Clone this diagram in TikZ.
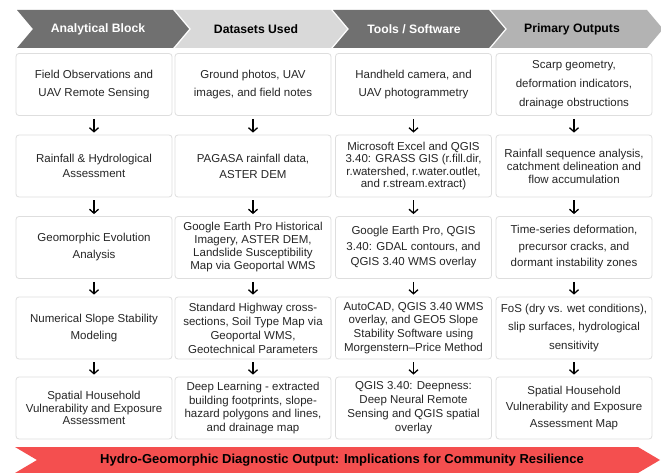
\documentclass[tikz,border=0pt]{standalone}
\usepackage{fontspec}
\setmainfont{Liberation Sans}
\usetikzlibrary{arrows.meta}
\definecolor{chevdark}{HTML}{707070}
\definecolor{chevlight}{HTML}{D9D9D9}
\definecolor{chevmid}{HTML}{B3B3B3}
\definecolor{bannerred}{HTML}{F44F4F}
\definecolor{boxline}{HTML}{DEDEDE}
\definecolor{bodytext}{HTML}{262626}
\begin{document}
\begin{tikzpicture}[x=1pt,y=-1pt,
  box/.style={draw=boxline, line width=0.8pt, fill=white, rounded corners=3pt,
    minimum width=156pt, minimum height=62pt, inner sep=0pt, align=center, text=bodytext},
  ls/.style={font=\fontsize{11.5}{#1}\selectfont},
  headtext/.style={font=\fontsize{12.2}{14}\selectfont\bfseries, inner sep=0pt},
  bannertext/.style={font=\fontsize{13}{15}\selectfont\bfseries, inner sep=0pt, text=black},
  arr/.style={line width=1.3pt, -{Straight Barb[length=4pt,width=9pt]}, shorten <=3pt, shorten >=2pt}]
\useasboundingbox (0,0) rectangle (661,473);
\fill[white] (0,0) rectangle (661,473);

% header chevrons
\foreach \k/\col/\tc/\txt/\nm in {0/chevdark/white/{Analytical Block}/h1,
                                   1/chevlight/black/{Datasets Used}/h2,
                                   2/chevdark/white/{Tools / Software}/h3,
                                   3/chevmid/black/{Primary Outputs}/h4}{
  \pgfmathsetmacro\L{17+158*\k}
  \fill[\col] (\L,10) -- ++(156,0) -- ++(16,19) -- ++(-16,19) -- ++(-156,0) -- ++(16,-19) -- cycle;
  \node[headtext, text=\tc] (\nm) at (\L+81,29) {\txt};
}

% boxes
\node[box, ls=18.3] (r1c1) at (94,84.5)  {Field Observations and\\UAV Remote Sensing};
\node[box, ls=18.3] (r1c2) at (253,84.5) {Ground photos, UAV\\images, and field notes};
\node[box, ls=18.3] (r1c3) at (413.5,84.5) {Handheld camera, and\\UAV photogrammetry};
\node[box, ls=19]   (r1c4) at (574,84.5) {Scarp geometry,\\deformation indicators,\\drainage obstructions};

\node[box, ls=15]   (r2c1) at (94,166)  {Rainfall \& Hydrological\\Assessment};
\node[box, ls=16]   (r2c2) at (253,166) {PAGASA rainfall data,\\ASTER DEM};
\node[box, ls=12.5] (r2c3) at (413.5,166) {Microsoft Excel and QGIS\\3.40: GRASS GIS (r.fill.dir,\\r.watershed, r.water.outlet,\\and r.stream.extract)};
\node[box, ls=13]   (r2c4) at (574,166) {Rainfall sequence analysis,\\catchment delineation and\\flow accumulation};

\node[box, ls=17]   (r3c1) at (94,247.5)  {Geomorphic Evolution\\Analysis};
\node[box, ls=13]   (r3c2) at (253,247.5) {Google Earth Pro Historical\\Imagery, ASTER DEM,\\Landslide Susceptibility\\Map via Geoportal WMS};
\node[box, ls=15.5] (r3c3) at (413.5,247.5) {Google Earth Pro, QGIS\\3.40: GDAL contours, and\\QGIS 3.40 WMS overlay};
\node[box, ls=16.5] (r3c4) at (574,247.5) {Time-series deformation,\\precursor cracks, and\\dormant instability zones};

\node[box, ls=17]   (r4c1) at (94,328)  {Numerical Slope Stability\\Modeling};
\node[box, ls=14]   (r4c2) at (253,328) {Standard Highway cross-\\sections, Soil Type Map via\\Geoportal WMS,\\Geotechnical Parameters};
\node[box, ls=13.7] (r4c3) at (413.5,328) {AutoCAD, QGIS 3.40 WMS\\overlay, and GEO5 Slope\\Stability Software using\\Morgenstern–Price Method};
\node[box, ls=18.7] (r4c4) at (574,328) {FoS (dry vs. wet conditions),\\slip surfaces, hydrological\\sensitivity};

\node[box, ls=12.5] (r5c1) at (94,408)  {Spatial Household\\Vulnerability and Exposure\\Assessment};
\node[box, ls=13.7] (r5c2) at (253,408) {Deep Learning - extracted\\building footprints, slope-\\hazard polygons and lines,\\and drainage map};
\node[box, ls=14]   (r5c3) at (413.5,408) {QGIS 3.40: Deepness:\\Deep Neural Remote\\Sensing and QGIS spatial\\overlay};
\node[box, ls=16.7] (r5c4) at (574,408) {Spatial Household\\Vulnerability and Exposure\\Assessment Map};

% arrows
\foreach \c in {1,2,3,4}{
  \foreach \r in {1,2,3,4}{
    \pgfmathtruncatemacro\n{\r+1}
    \draw[arr] (r\r c\c.south) -- (r\n c\c.north);
  }
}

% banner
\fill[bannerred] (15,447) -- (638,447) -- (660,460) -- (638,473) -- (15,473) -- (37,460) -- cycle;
\node[bannertext] (banner) at (342,460) {Hydro-Geomorphic Diagnostic Output: Implications for Community Resilience};
\end{tikzpicture}
\end{document}
